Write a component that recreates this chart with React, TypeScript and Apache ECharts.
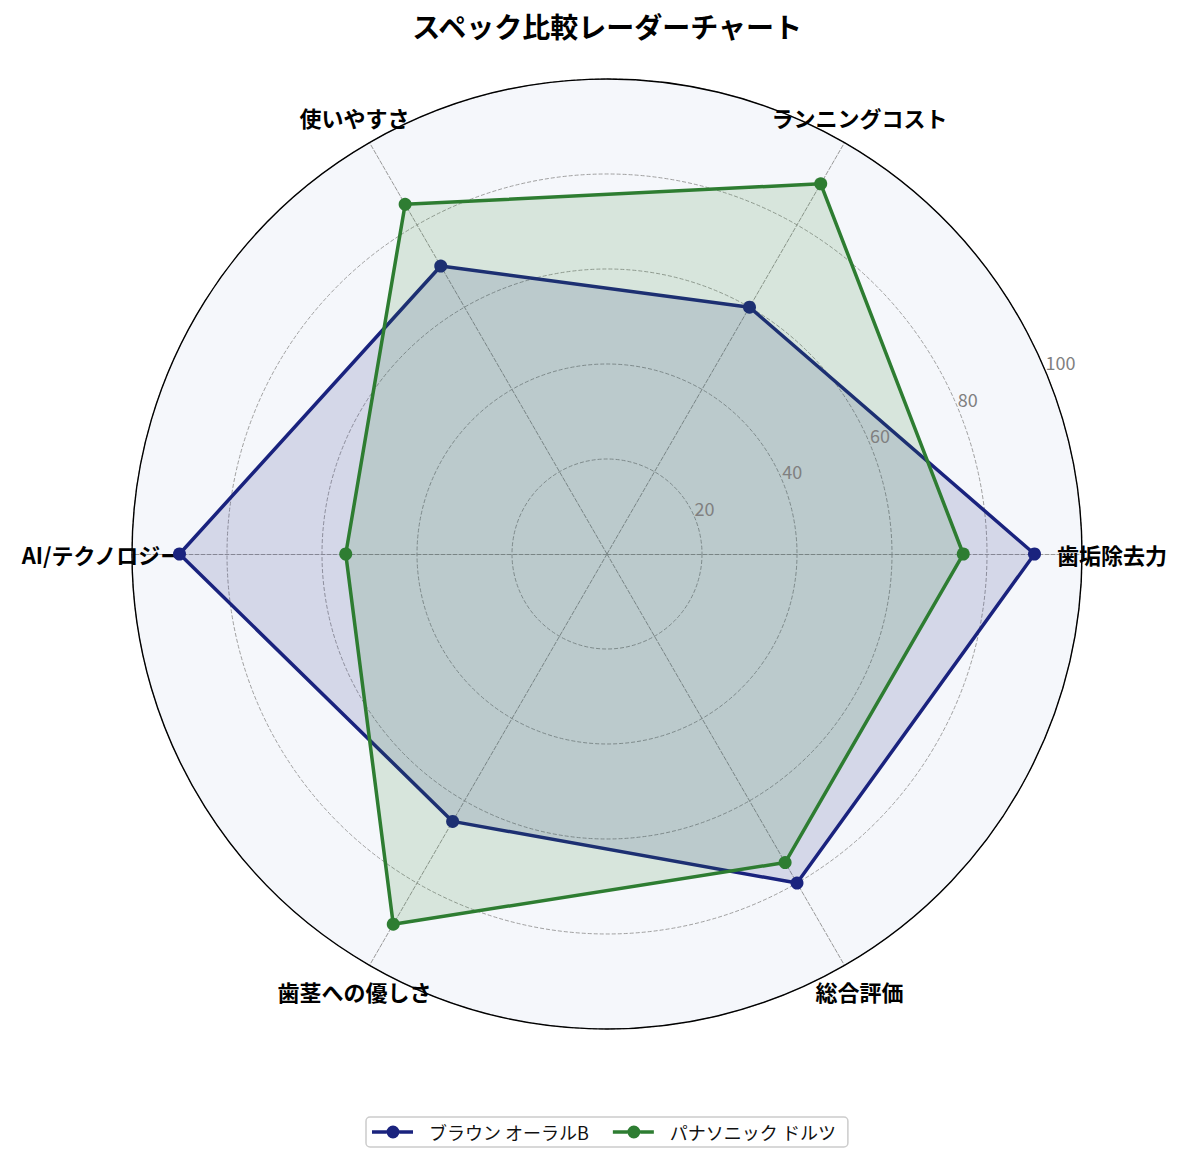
import React, { useEffect, useRef } from "react";
import * as echarts from "echarts";

const TITLE = "スペック比較レーダーチャート";
const categories = ["歯垢除去力", "ランニングコスト", "使いやすさ", "AI/テクノロジー", "歯茎への優しさ", "総合評価"];
const seriesNames = ["ブラウン オーラルB", "パナソニック ドルツ"];
const braunValues = [90, 60, 70, 90, 65, 80];
const panaValues = [75, 90, 85, 55, 90, 75];
const seriesColors = ["#1a237e", "#2e7d32"];
const radialMax = 100;
const radialStep = 20;

const FONT = "'Noto Sans CJK JP', 'Noto Sans', sans-serif";
const CX = 607;
const CY = 554;
const R = 475;

// line + circle marker, with blank space on the right to widen the gap before the text
const legendIcon =
  "path://M0,5.3L14.6,5.3L14.6,8.7L0,8.7Z M27.4,5.3L41,5.3L41,8.7L27.4,8.7Z M14.5,7A6.5,6.5 0 1 1 27.5,7A6.5,6.5 0 1 1 14.5,7Z M51.9,7L52,7L52,7.01Z";

export default function App() {
  const ref = useRef<HTMLDivElement>(null);
  useEffect(() => {
    document.body.style.margin = "0";
    const chart = echarts.init(ref.current!, null, { renderer: "svg" });
    const dash = [4, 2];
    const valueLists = [braunValues, panaValues];
    chart.setOption({
      animation: false,
      backgroundColor: "#ffffff",
      title: {
        text: TITLE,
        left: CX,
        textAlign: "center",
        top: 12,
        padding: 0,
        textStyle: { fontFamily: FONT, fontSize: 28, fontWeight: "bold", color: "#000" },
      },
      legend: {
        data: seriesNames.map((n) => ({ name: n, icon: legendIcon })),
        top: 1117,
        left: 366,
        itemWidth: 52,
        itemHeight: 14,
        itemGap: 24,
        padding: [6, 12, 6, 6],
        borderColor: "#cccccc",
        borderWidth: 1.5,
        borderRadius: 4,
        textStyle: { fontFamily: FONT, fontSize: 18, color: "#111" },
      },
      radar: {
        center: [CX, CY],
        radius: R,
        startAngle: 0,
        shape: "circle",
        splitNumber: radialMax / radialStep,
        nameGap: 30,
        axisName: {
          fontFamily: FONT,
          fontSize: 22,
          fontWeight: "bold",
          color: "#000",
          align: "center",
          verticalAlign: "middle",
        },
        indicator: categories.map((c) => ({ text: c, min: 0, max: radialMax })),
        axisLine: { lineStyle: { color: "#999999", width: 1, type: dash } },
        axisTick: { show: false },
        axisLabel: { show: false },
        splitLine: { lineStyle: { color: "#a0a0a0", width: 1, type: dash } },
        splitArea: { areaStyle: { color: ["#f5f7fb"] } },
      },
      polar: { center: [CX, CY], radius: R },
      angleAxis: {
        type: "value",
        min: 0,
        max: 360,
        startAngle: 22.5,
        z: 1,
        axisLine: { show: true, lineStyle: { color: "#000", width: 1.4 } },
        axisTick: { show: false },
        axisLabel: { show: false },
        splitLine: { show: false },
      },
      radiusAxis: {
        type: "value",
        min: 0,
        max: radialMax,
        interval: radialStep,
        z: 3,
        axisLine: { show: false },
        axisTick: { show: false },
        splitLine: { show: false },
        axisLabel: {
          color: "#808080",
          fontSize: 18,
          fontFamily: FONT,
          align: "left",
          verticalAlign: "bottom",
          margin: 1,
          formatter: (v: number) => (v === 0 ? "" : String(v)),
        },
      },
      series: seriesNames.map((name, i) => ({
        type: "radar",
        name,
        z: 2 + i,
        symbol: "circle",
        symbolSize: 13,
        itemStyle: { color: seriesColors[i] },
        lineStyle: { color: seriesColors[i], width: 3.5 },
        areaStyle: { color: seriesColors[i], opacity: 0.15 },
        data: [{ name, value: valueLists[i] }],
      })),
    });
    return () => chart.dispose();
  }, []);
  return <div ref={ref} style={{ width: 1185, height: 1165 }} />;
}
